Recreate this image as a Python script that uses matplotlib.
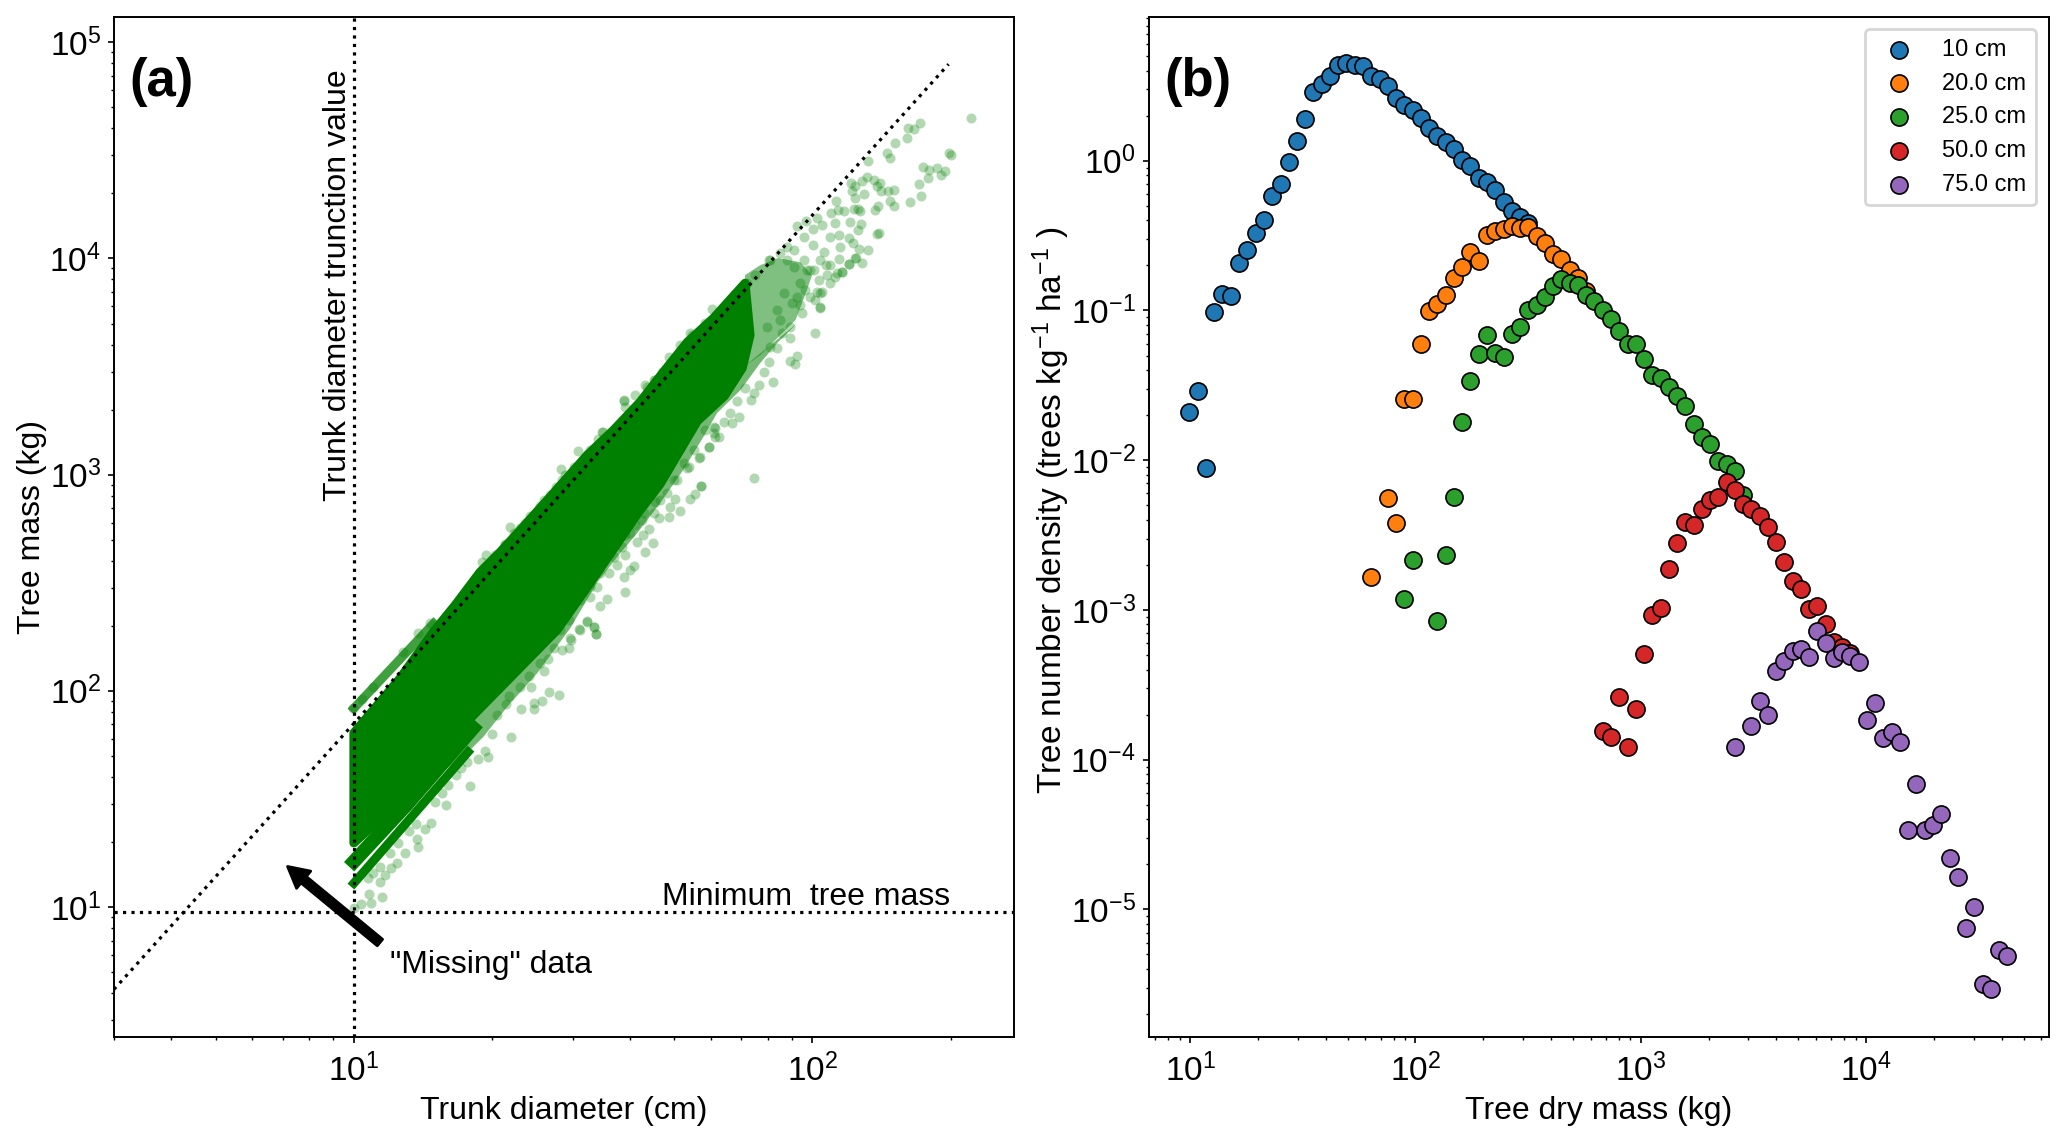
import numpy as np
import matplotlib
matplotlib.use("Agg")
import matplotlib.pyplot as plt
from matplotlib.ticker import LogLocator, NullFormatter

plt.rcParams["font.family"] = ["Liberation Sans", "DejaVu Sans"]
plt.rcParams["mathtext.default"] = "regular"

# panel (a), everything as log10(cm), log10(kg)
core_log_diam = [1.000, 1.101, 1.173, 1.221, 1.275, 1.319, 1.369, 1.422, 1.509, 1.566, 1.624, 1.675, 1.727, 1.784, 1.853, 1.864,
                 1.847, 1.808, 1.749, 1.668, 1.618, 1.559, 1.509, 1.443, 1.261, 1.148, 1.050, 1.000]
core_log_mass = [1.805, 2.059, 2.272, 2.397, 2.549, 2.642, 2.758, 2.883, 3.091, 3.206, 3.336, 3.475, 3.613, 3.724, 3.886, 3.646,
                 3.493, 3.364, 3.248, 2.957, 2.818, 2.633, 2.480, 2.281, 1.888, 1.624, 1.393, 1.296]

# thinner part of the cloud, below the core and out along the tail
fringe_log_diam = [1.170, 1.249, 1.282, 1.334, 1.400, 1.472, 1.531, 1.581, 1.618, 1.668, 1.718, 1.762, 1.792, 1.843, 1.886, 1.923, 1.967,
                   1.847, 1.808, 1.749, 1.668, 1.509, 1.261, 1.170]
fringe_log_mass = [1.587, 1.717, 1.786, 1.925, 2.082, 2.290, 2.503, 2.637, 2.730, 2.869, 3.021, 3.174, 3.285, 3.391, 3.516, 3.609, 3.701,
                   3.493, 3.364, 3.248, 2.957, 2.480, 1.888, 1.680]

tail_log_diam = [1.853, 1.886, 1.925, 1.973, 1.999, 1.984, 1.963, 1.930, 1.886, 1.847]
tail_log_mass = [3.923, 3.969, 4.002, 3.983, 3.923, 3.831, 3.715, 3.646, 3.553, 3.493]

stripe_a_diam = [1.000, 1.249]
stripe_a_mass = [1.110, 1.717]
stripe_b_diam = [1.000, 1.116, 1.260]
stripe_b_mass = [1.210, 1.475, 1.828]
stripe_c_diam = [1.000, 1.174]
stripe_c_mass = [1.919, 2.312]

scatter_log_diam = [
    2.3457, 2.2352, 2.2075, 2.2221, 2.2068, 2.1799, 2.1625, 2.1683, 2.2970, 2.3028,
    2.1203, 2.2403, 2.2541, 2.2715, 2.2897, 2.2795, 2.2519, 2.2323, 2.2374, 2.2119,
    2.1777, 2.1646, 2.1486, 2.1683, 2.1777, 2.1421, 2.1363, 2.1188, 2.1079, 2.1334,
    2.1465, 2.1399, 2.0847, 2.0934, 2.0869, 2.1130, 2.0927, 2.0505, 2.0549, 2.0411,
    2.0679, 2.0898, 2.1043, 2.0985, 2.0098, 1.9858, 1.9654, 2.0214, 2.0498, 2.0810,
    2.1065, 2.0985, 2.1406, 2.1443, 2.0003, 2.0389, 2.0585, 2.0789, 2.0883, 2.1021,
    2.1210, 2.0607, 2.0011, 1.9807, 2.0941, 2.1079, 2.0803, 2.0578, 2.0294, 2.0243,
    2.0650, 2.0498, 2.0389, 2.0156, 2.0207, 2.0062,
    1.5881, 1.6135, 1.6390, 1.6571, 1.6862, 1.7117, 1.7371, 1.7807, 1.7989, 1.8316,
    1.8462, 1.8752, 1.9043, 2.0061, 2.0156, 1.8731, 1.9130, 1.8949, 1.9661, 1.9501,
    1.9610, 1.9043, 1.9516, 1.9225, 1.8840, 1.8534, 1.8716, 1.8658, 1.8352, 1.8389,
    1.8207, 1.8062, 1.8244, 1.7844, 1.7662, 1.7953, 1.7880, 1.7735, 1.7553, 1.7298,
    1.7407, 1.7189, 1.7567, 1.6971, 2.0315, 2.0534, 2.0643, 2.0803, 2.0933, 2.0097,
    2.0170, 1.9770, 1.9516, 1.9334, 1.9079, 1.9734,
    1.4878, 1.4522, 1.3409, 1.2886, 1.3831, 1.3300, 1.5409, 1.5881, 1.7575, 1.7430,
    1.7335, 1.7117, 1.6877, 1.6659, 1.6514, 1.6172, 1.6136, 1.6303, 1.6441, 1.6317,
    1.5917, 1.5896, 1.5910, 1.6027, 1.6099, 1.6354, 1.5917, 1.5518, 1.5358, 1.5081,
    1.5227, 1.5285, 1.4914, 1.4718, 1.7735, 1.7844, 1.7880, 1.7517, 1.7262, 1.7044,
    1.6899, 1.7008, 1.6572, 1.5736, 1.5554, 1.5300, 1.5154,
    1.5284, 1.5226, 1.5081, 1.4921, 1.4732, 1.4543, 1.4681, 1.4223, 1.4157, 1.4463,
    1.4252, 1.4099, 1.3939, 1.3932, 1.3634, 1.3627, 1.3852, 1.3431, 1.3002, 1.2936,
    1.2856, 1.2704, 1.2522, 1.2464, 1.2333, 1.2231, 1.2013, 1.1918, 1.1773, 1.1678,
    1.1555, 1.1351, 1.1206, 1.1373, 1.1409, 1.1119, 1.0973, 1.0791, 1.0937, 1.0806,
    1.0682, 1.0573, 1.0573, 1.0610, 1.0341, 1.0377, 1.0152, 1.0413, 1.0304, 1.3307,
    1.3118, 1.3394, 1.3809, 1.4049, 1.4354, 0.9992, 1.0174, 1.0428, 1.1082, 1.1409,
    1.1664, 1.2049, 1.0000,
    1.5430, 1.5314, 1.5154, 1.5081, 1.4791, 1.4609, 1.4536, 1.4413, 1.4267, 1.4136,
    1.4049, 1.3736, 1.3613, 1.3482, 1.3300, 1.3082, 1.2791,
    1.5917, 1.6353, 1.6535, 1.6717, 1.7335, 1.7662, 1.8207, 1.8571,
    1.6826, 1.6681, 1.6535, 1.6281, 1.6027, 1.5845, 1.5663, 1.5372, 1.5154, 1.4936,
    1.4682, 1.4500,
    1.9588, 1.9879, 1.9443, 1.9734, 1.9370, 1.9661, 1.9225, 1.9007, 1.9298, 2.0170,
    2.0025, 2.0388,
    1.9080, 1.9298, 1.9444, 1.9589, 1.9807, 1.9952, 2.0134, 1.9843, 1.9553, 1.9952,
]
scatter_log_mass = [
    4.6494, 4.6278, 4.6047, 4.5985, 4.5569, 4.5322, 4.4860, 4.4644, 4.4860, 4.4798,
    4.4490, 4.4227, 4.4089, 4.4197, 4.4042, 4.3857, 4.3703, 4.3457, 4.2902, 4.2593,
    4.3148, 4.3117, 4.3133, 4.2655, 4.2439, 4.2408, 4.2239, 4.3749, 4.3564, 4.3626,
    4.3487, 4.3349, 4.3472, 4.3349, 4.3117, 4.2963, 4.2778, 4.2655, 4.2239, 4.2084,
    4.2192, 4.2269, 4.2192, 4.2300, 4.1853, 4.1745, 4.1498, 4.1545, 4.1622, 4.1684,
    4.1576, 4.1313, 4.1144, 4.1159, 4.1344, 4.1005, 4.1082, 4.0928, 4.0697, 4.0419,
    4.0373, 4.0543, 4.0604, 4.1005, 4.0003, 3.9802, 3.9725, 3.9957, 3.9695, 4.0311,
    3.9355, 3.9155, 3.8877, 3.7721, 3.8430, 3.8075,
    3.3451, 3.3682, 3.4068, 3.4376, 3.5424, 3.5995, 3.6457, 3.7645, 3.7460, 3.8338,
    3.8693, 3.9233, 3.9926, 3.6535, 3.7737, 2.9828, 3.4299, 3.4761, 3.5486, 3.5255,
    3.5101, 3.5224, 3.6303, 3.5871, 3.4145, 3.3990, 3.3759, 3.3451, 3.3420, 3.2680,
    3.2834, 3.2449, 3.2372, 3.2187, 3.2063, 3.1755, 3.1755, 3.1292, 3.0830, 3.0367,
    3.1138, 3.0522, 2.9488, 2.9750, 3.9233, 3.9310, 3.9387, 3.9726, 4.0004, 3.8462,
    3.8385, 3.7460, 3.6843, 3.6535, 3.5918, 3.7845,
    3.1092, 3.0244, 2.7561, 2.6282, 2.8086, 2.6744, 3.1986, 3.3405, 2.9473, 2.9088,
    2.8872, 2.8317, 2.8055, 2.8009, 2.6821, 2.6898, 2.7669, 2.7207, 2.7469, 2.8209,
    2.7207, 2.5279, 2.4570, 2.5588, 2.5773, 2.6436, 2.6282, 2.4247, 2.3923, 2.3244,
    2.2967, 2.2612, 2.2844, 2.2427, 3.1292, 3.1909, 3.2140, 3.0753, 3.0290, 2.9751,
    2.8517, 2.8857, 2.8749, 2.5819, 2.5434, 2.4817, 2.4354,
    2.2627, 2.2967, 2.3198, 2.2812, 2.2350, 2.1887, 2.1964, 2.1456, 2.0931, 1.9806,
    1.9929, 1.9544, 1.9421, 1.9143, 1.9143, 2.0191, 2.0191, 1.7863, 1.8002, 1.6954,
    1.7231, 1.6861, 1.5597, 1.6722, 1.6414, 1.6106, 1.4718, 1.5258, 1.4872, 1.3901,
    1.3593, 1.3839, 1.3531, 1.3130, 1.2760, 1.2513, 1.2945, 1.2483, 1.2051, 1.1789,
    1.1480, 1.1866, 1.1172, 1.0447, 1.0602, 1.0200, 1.0139, 1.1557, 1.1327, 1.9374,
    1.8881, 1.9760, 2.0685, 2.1271, 2.1964, 1.9189, 1.9606, 2.0191, 2.1810, 2.2658,
    2.3152, 1.5643, 0.9950,
    3.1986, 3.1632, 3.1138, 3.0907, 3.0367, 2.9982, 2.9751, 2.9412, 2.9057, 2.8826,
    2.8548, 2.7746, 2.7515, 2.7315, 2.6791, 2.6282, 2.5973,
    3.3143, 3.4145, 3.4376, 3.4761, 3.6535, 3.7020, 3.8076, 3.8847,
    2.9134, 2.8826, 2.8209, 2.7900, 2.7284, 2.6667, 2.6204, 2.5434, 2.4817, 2.4200,
    2.3275, 2.2813,
    3.9618, 3.9464, 3.9926, 3.8847, 3.8385, 3.8230, 3.7614, 3.6843, 3.7151, 3.9926,
    3.9464, 3.9695,
    3.9926, 4.0234, 4.0543, 4.0388, 3.9926, 3.9463, 3.9001, 3.8538, 3.7922, 3.8230,
]

limit_line_diam = [3, 198]
limit_line_mass = [4.16, 79200]
min_diameter = 10
min_mass = 9.5

# panel (b)
mass_10 = [9.93, 10.8, 11.8, 12.8, 13.9, 15.2, 16.5, 17.9, 19.5, 21.2, 23.1, 25.2, 27.4, 29.8,
           32.4, 35.2, 38.4, 41.8, 45.4, 49.4, 53.8, 58.5, 63.7, 69.3, 75.4, 82.0, 89.3, 97.1,
           105.7, 115, 125, 136, 148, 161, 175, 191, 208, 226, 246, 267, 291, 317]
dens_10 = [0.0211, 0.0291, 0.0089, 0.0977, 0.129, 0.124, 0.207, 0.255, 0.330, 0.402, 0.586,
           0.699, 0.982, 1.35, 1.91, 2.88, 3.24, 3.68, 4.34, 4.47, 4.39, 4.27, 3.68, 3.49, 3.16,
           2.64, 2.36, 2.17, 1.93, 1.65, 1.47, 1.33, 1.20, 1.01, 0.927, 0.764, 0.716, 0.640,
           0.533, 0.460, 0.424, 0.386]

mass_20 = [63.7, 75.4, 82.0, 89.3, 97.1, 105.7, 115, 125, 136, 148, 161, 175, 191, 208, 226, 246,
           267, 291, 317, 345, 375, 408, 444, 483, 526, 572]
dens_20 = [0.00166, 0.00556, 0.00382, 0.0257, 0.0257, 0.0600, 0.0994, 0.111, 0.126, 0.165, 0.196,
           0.244, 0.213, 0.318, 0.340, 0.352, 0.364, 0.358, 0.362, 0.314, 0.283, 0.239, 0.220,
           0.186, 0.164, 0.134]

mass_25 = [89.3, 97.1, 125, 136, 148, 161, 175, 191, 208, 226, 246, 267, 291, 317, 345, 375, 408,
           444, 483, 526, 572, 622, 677, 737, 802, 873, 949, 1033, 1124, 1223, 1331, 1448, 1575,
           1714, 1865, 2029, 2208, 2403, 2614, 2844]
dens_25 = [0.00118, 0.00216, 0.00084, 0.00232, 0.00569, 0.0181, 0.0339, 0.0509, 0.0690, 0.0518,
           0.0491, 0.0698, 0.0773, 0.100, 0.109, 0.123, 0.146, 0.162, 0.152, 0.148, 0.127, 0.115,
           0.101, 0.0879, 0.0724, 0.0593, 0.0593, 0.0471, 0.0371, 0.0356, 0.0310, 0.0268, 0.0230,
           0.0175, 0.0144, 0.0129, 0.00993, 0.00948, 0.00849, 0.00586]

mass_50 = [677, 737, 802, 873, 949, 1033, 1124, 1223, 1331, 1448, 1575, 1714, 1865, 2029, 2208,
           2403, 2614, 2844, 3095, 3367, 3664, 3986, 4337, 4719, 5135, 5587, 6079, 6614, 7196,
           7830, 8519]
dens_50 = [1.55e-4, 1.42e-4, 2.61e-4, 1.21e-4, 2.19e-4, 5.07e-4, 9.27e-4, 1.03e-3, 1.87e-3, 2.81e-3,
           3.86e-3, 3.71e-3, 4.71e-3, 5.40e-3, 5.69e-3, 7.11e-3, 6.36e-3, 5.12e-3, 4.69e-3, 4.25e-3,
           3.60e-3, 2.83e-3, 2.09e-3, 1.56e-3, 1.38e-3, 1.01e-3, 1.06e-3, 8.02e-4, 6.10e-4, 5.66e-4,
           5.19e-4]

mass_75 = [2614, 3095, 3367, 3664, 3986, 4337, 4719, 5135, 5587, 6079, 6614, 7196, 7830, 8519, 9269,
           10085, 10973, 11940, 12990, 14134, 15380, 16730, 18200, 19810, 21560, 23450, 25520, 27770,
           30210, 32870, 35770, 38920, 42350]
dens_75 = [1.21e-4, 1.69e-4, 2.48e-4, 2.00e-4, 3.92e-4, 4.56e-4, 5.33e-4, 5.49e-4, 4.83e-4, 7.26e-4,
           6.00e-4, 4.75e-4, 5.27e-4, 4.89e-4, 4.51e-4, 1.85e-4, 2.39e-4, 1.39e-4, 1.53e-4, 1.32e-4,
           3.41e-5, 6.85e-5, 3.41e-5, 3.68e-5, 4.36e-5, 2.22e-5, 1.64e-5, 7.57e-6, 1.04e-5, 3.18e-6,
           2.93e-6, 5.37e-6, 4.92e-6]

size_labels = ["10 cm", "20.0 cm", "25.0 cm", "50.0 cm", "75.0 cm"]
size_series = [(mass_10, dens_10), (mass_20, dens_20), (mass_25, dens_25), (mass_50, dens_50), (mass_75, dens_75)]


def style_axis(ax):
    for axis in [ax.xaxis, ax.yaxis]:
        axis.set_major_locator(LogLocator(base=10, numticks=20))
        axis.set_minor_locator(LogLocator(base=10, subs=np.arange(2, 10), numticks=100))
        axis.set_minor_formatter(NullFormatter())
    ax.tick_params(which="major", length=2.2, width=0.6, pad=2.5, labelsize=12)
    ax.tick_params(axis="x", which="major", pad=3.8)
    ax.tick_params(which="minor", length=1.2, width=0.5)
    for spine in ax.spines.values():
        spine.set_linewidth(0.7)


def plot_mass_panel(ax):
    ax.set_xscale("log")
    ax.set_yscale("log")
    # solid part of the cloud
    ax.fill(10 ** np.array(core_log_diam), 10 ** np.array(core_log_mass), color="green", lw=3.2, joinstyle="round", zorder=1)
    ax.fill(10 ** np.array(fringe_log_diam), 10 ** np.array(fringe_log_mass), facecolor="green", edgecolor="none", alpha=0.55, zorder=1)
    ax.fill(10 ** np.array(tail_log_diam), 10 ** np.array(tail_log_mass), facecolor="green", edgecolor="none", alpha=0.5, zorder=1)
    ax.plot(10 ** np.array(stripe_a_diam), 10 ** np.array(stripe_a_mass), color="green", lw=3.2, zorder=1)
    ax.plot(10 ** np.array(stripe_b_diam), 10 ** np.array(stripe_b_mass), color="green", lw=5, zorder=1)
    ax.plot(10 ** np.array(stripe_c_diam), 10 ** np.array(stripe_c_mass), color="green", lw=3.2, alpha=0.75, zorder=1)
    ax.scatter(10 ** np.array(scatter_log_diam), 10 ** np.array(scatter_log_mass), s=13, color="green", alpha=0.3, linewidths=0, zorder=2)

    # limits
    ax.plot(limit_line_diam, limit_line_mass, ":", color="black", lw=1.15, zorder=3)
    ax.axvline(min_diameter, ls=":", color="black", lw=1.15, zorder=3)
    ax.axhline(min_mass, ls=":", color="black", lw=1.15, zorder=3)

    ax.set_xlim(3, 275)
    ax.set_ylim(2.51, 1.305e5)
    style_axis(ax)
    ax.set_xlabel("Trunk diameter (cm)", fontsize=11.5)
    ax.set_ylabel("Tree mass (kg)", fontsize=11.5)
    ax.xaxis.set_label_coords(0.5, -0.058)
    ax.yaxis.set_label_coords(-0.074, 0.5)

    ax.text(9.24, 755, "Trunk diameter trunction value", rotation=90, ha="center", va="bottom", fontsize=11.5)
    ax.text(200, 11.1, "Minimum  tree mass", ha="right", va="center", fontsize=11.5)
    ax.annotate("", xy=(7.17, 15.4), xytext=(11.4, 6.85),
                arrowprops=dict(facecolor="black", edgecolor="black", width=3, headwidth=8, headlength=7.5, shrink=0), zorder=4)
    ax.text(12.0, 5.38, '"Missing" data', va="center", fontsize=11.5)
    ax.text(0.0175, 0.937, "(a)", transform=ax.transAxes, fontsize=19, fontweight="bold", va="center")


def plot_density_panel(ax):
    ax.set_xscale("log")
    ax.set_yscale("log")
    for (mass, dens), label in zip(size_series, size_labels):
        ax.scatter(mass, dens, s=38, edgecolors="black", linewidths=0.6, label=label, zorder=2)
    ax.set_xlim(6.54, 64600)
    ax.set_ylim(1.41e-6, 9.08)
    style_axis(ax)
    ax.set_xlabel("Tree dry mass (kg)", fontsize=11.5)
    ax.set_ylabel("Tree number density (trees kg$^{-1}$ ha$^{-1}$ )", fontsize=12)
    ax.xaxis.set_label_coords(0.5, -0.058)
    ax.yaxis.set_label_coords(-0.085, 0.517)
    ax.text(0.0175, 0.937, "(b)", transform=ax.transAxes, fontsize=19, fontweight="bold", va="center")
    ax.legend(loc="upper right", bbox_to_anchor=(0.9859, 0.9882), borderaxespad=0, fontsize=8.5,
              handletextpad=0.86, labelspacing=0.5)


fig = plt.figure(figsize=(10.335, 5.715), dpi=200)
ax_a = fig.add_axes([114 / 2067, 106.2 / 1143, 900 / 2067, 1019.5 / 1143])
ax_b = fig.add_axes([1148.6 / 2067, 106.2 / 1143, 900.1 / 2067, 1019.5 / 1143])
plot_mass_panel(ax_a)
plot_density_panel(ax_b)
fig.savefig("out.png", dpi=200)
